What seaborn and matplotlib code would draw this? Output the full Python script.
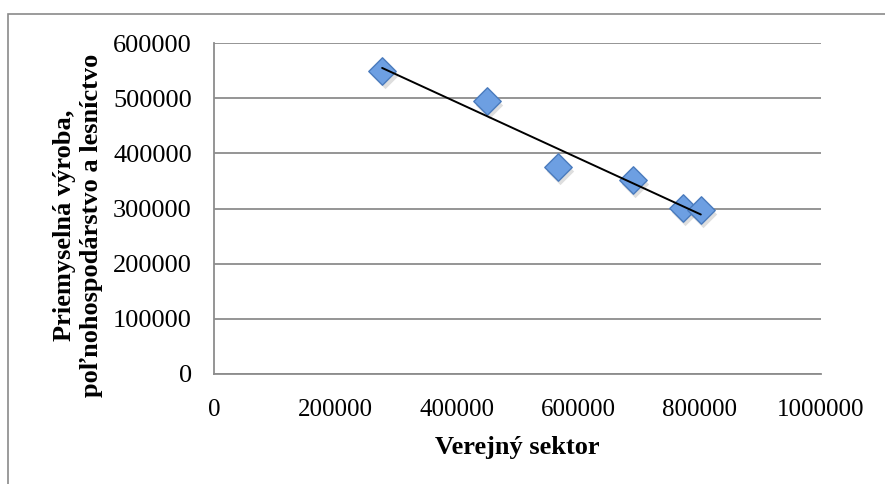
import numpy as np
import pandas as pd
import matplotlib
matplotlib.use("Agg")
import matplotlib.pyplot as plt
import seaborn as sns
from matplotlib.patches import Rectangle

# Values
verejny_sektor = [277000, 449500, 566000, 689500, 772000, 802000]
priemysel = [549800, 495400, 375800, 351700, 300400, 297300]

x_ticks = [0, 200000, 400000, 600000, 800000, 1000000]
y_ticks = [0, 100000, 200000, 300000, 400000, 500000, 600000]

df = pd.DataFrame({"Verejný sektor": verejny_sektor, "Priemysel": priemysel})

sns.set_theme(style="white")
plt.rcParams["font.family"] = ["Liberation Serif", "DejaVu Serif"]
plt.rcParams["text.color"] = "black"
plt.rcParams["axes.labelcolor"] = "black"

fig = plt.figure(figsize=(8.85, 4.84), dpi=100)
ax = fig.add_axes([214 / 885, 1 - 374 / 484, (821 - 214) / 885, (374 - 43) / 484])

grid_col = "#8c8c8c"

# light shadow under the markers
ax.scatter(df["Verejný sektor"] + 4000, df["Priemysel"] - 7000, marker="D", s=195,
           color="#000000", alpha=0.13, linewidths=0, zorder=2)
sns.scatterplot(data=df, x="Verejný sektor", y="Priemysel", ax=ax, marker="D", s=195,
                color="#6d9fe2", edgecolor="#4a7bbd", linewidth=1.0, zorder=3)
# linear trendline over the data range
sns.regplot(data=df, x="Verejný sektor", y="Priemysel", ax=ax, scatter=False, ci=None,
            truncate=True, line_kws={"color": "black", "linewidth": 1.4, "zorder": 4})

ax.set_xlim(0, 1000000)
ax.set_ylim(0, 600000)
ax.set_xticks(x_ticks)
ax.set_yticks(y_ticks)
ax.set_xticklabels([str(t) for t in x_ticks])
ax.set_yticklabels([str(t) for t in y_ticks])
ax.tick_params(axis="both", length=0, colors="black")
ax.tick_params(axis="x", pad=18, labelsize=18)
ax.tick_params(axis="y", pad=16, labelsize=19)

ax.yaxis.grid(True, color=grid_col, linewidth=1.3)
ax.xaxis.grid(False)
ax.set_axisbelow(True)
for side in ["top", "right"]:
    ax.spines[side].set_visible(False)
for side in ["left", "bottom"]:
    ax.spines[side].set_color(grid_col)
    ax.spines[side].set_linewidth(1.3)

ax.set_xlabel("Verejný sektor", fontsize=19, fontweight="bold", labelpad=11)
ax.set_ylabel("Priemyselná výroba,\npoľnohospodárstvo a lesníctvo", fontsize=19,
              fontweight="bold", linespacing=1.2)
ax.yaxis.set_label_coords(-0.183, 0.45)

# chart border
fig.patches.append(Rectangle((8 / 885, -0.5), 1.5, 1.5 - 14 / 484,
                             transform=fig.transFigure, fill=False,
                             edgecolor="#8a8a8a", linewidth=1.2))

fig.savefig("out.png", dpi=100)
